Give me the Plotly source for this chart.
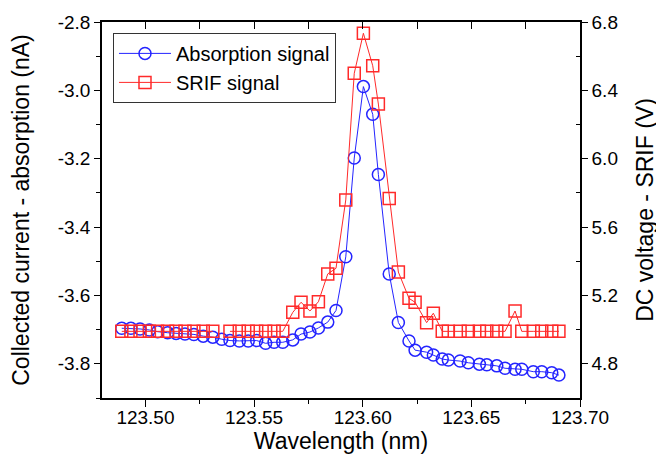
import plotly.graph_objects as go

# Wavelength (nm) of each scan point
wavelength = [123.4891, 123.4933, 123.4975, 123.5018, 123.5056, 123.5102, 123.5141, 123.5182,
              123.5223, 123.5266, 123.5310, 123.5351, 123.5389, 123.5432, 123.5473, 123.5512,
              123.5553, 123.5592, 123.5632, 123.5678, 123.5716, 123.5757, 123.5796, 123.5839,
              123.5877, 123.5922, 123.5961, 123.6003, 123.6046, 123.6072, 123.6122, 123.6164,
              123.6213, 123.6241, 123.6294, 123.6325, 123.6366, 123.6394, 123.6448, 123.6486,
              123.6537, 123.6571, 123.6617, 123.6655, 123.6701, 123.6732, 123.6785, 123.6824,
              123.6870, 123.6903]

# Collected current - absorption (nA)
absorption = [-3.696, -3.696, -3.698, -3.701, -3.706, -3.709, -3.711, -3.713,
              -3.714, -3.719, -3.722, -3.728, -3.732, -3.733, -3.733, -3.732,
              -3.740, -3.737, -3.737, -3.730, -3.713, -3.707, -3.695, -3.678,
              -3.644, -3.487, -3.198, -2.989, -3.070, -3.246, -3.537, -3.679,
              -3.733, -3.760, -3.766, -3.774, -3.786, -3.789, -3.792, -3.797,
              -3.801, -3.803, -3.806, -3.813, -3.816, -3.816, -3.823, -3.823,
              -3.826, -3.833]

# DC voltage - SRIF (V)
srif = [4.99, 4.99, 4.99, 4.99, 4.99, 4.99, 4.99, 4.99,
        4.99, 4.99, 4.99, None, 4.99, 4.99, 4.99, 4.99,
        4.99, 4.99, 4.99, 5.101, 5.160, 5.109, 5.163, 5.326,
        5.359, 5.759, 6.500, 6.734, 6.544, 6.320, 5.768, 5.337,
        5.183, 5.160, 5.041, 5.096, 4.99, 4.99, 4.99, 4.99,
        4.99, 4.99, 4.99, 4.99, 5.109, 4.99, 4.99, 4.99,
        4.99, 4.99]

x_ticks = [123.50, 123.55, 123.60, 123.65, 123.70]
x_ticklabels = ["123.50", "123.55", "123.60", "123.65", "123.70"]
x_minor = [123.525, 123.575, 123.625, 123.675]
left_ticks = [-3.8, -3.6, -3.4, -3.2, -3.0, -2.8]
left_ticklabels = ["-3.8", "-3.6", "-3.4", "-3.2", "-3.0", "-2.8"]
left_minor = [-3.9, -3.7, -3.5, -3.3, -3.1, -2.9]
right_ticks = [4.8, 5.2, 5.6, 6.0, 6.4, 6.8]
right_ticklabels = ["4.8", "5.2", "5.6", "6.0", "6.4", "6.8"]
right_minor = [4.6, 5.0, 5.4, 5.8, 6.2, 6.6]

BLUE = "#2424ff"
RED = "#ff2a2a"
FONT = "Arial, Liberation Sans, sans-serif"

fig = go.Figure()
fig.add_trace(go.Scatter(
    x=wavelength, y=absorption, name="Absorption signal", mode="lines+markers",
    line=dict(color=BLUE, width=1),
    marker=dict(symbol="circle-open", size=12, color=BLUE, line=dict(width=1.5, color=BLUE)),
))
fig.add_trace(go.Scatter(
    x=wavelength, y=srif, name="SRIF signal", mode="lines+markers", yaxis="y2",
    line=dict(color=RED, width=1),
    marker=dict(symbol="square-open", size=12, color=RED, line=dict(width=1.5, color=RED)),
))
# empty trace so the mirrored top axis (inward ticks) is drawn
fig.add_trace(go.Scatter(x=[], y=[], xaxis="x2", yaxis="y", showlegend=False, hoverinfo="skip"))

xr = [123.48, 123.70]
tick_common = dict(tickwidth=1.3, tickcolor="black", showgrid=False, zeroline=False, automargin=False)
fig.update_layout(
    width=656, height=458,
    margin=dict(l=94, r=84, t=14, b=68),
    paper_bgcolor="white", plot_bgcolor="white",
    font=dict(family=FONT, size=19, color="black"),
    showlegend=True,
    legend=dict(x=0.023, y=0.971, xanchor="left", yanchor="top",
                bordercolor="#333", borderwidth=1, bgcolor="white",
                font=dict(size=20), tracegroupgap=0, itemwidth=52),
    xaxis=dict(range=xr, tickmode="array", tickvals=x_ticks, ticktext=x_ticklabels,
               ticks="outside", ticklen=7, ticklabelstandoff=-6,
               minor=dict(tickmode="array", tickvals=x_minor,
                          ticks="outside", ticklen=4, tickwidth=1.3, tickcolor="black"),
               showline=True, linecolor="black", linewidth=1.5, mirror=True,
               title=dict(text="Wavelength (nm)", standoff=2),
               tickfont=dict(size=19), **tick_common),
    xaxis2=dict(range=xr, overlaying="x", side="top", anchor="y",
                tickmode="array", tickvals=x_ticks, showticklabels=False,
                ticks="inside", ticklen=7,
                minor=dict(tickmode="array", tickvals=x_minor,
                           ticks="inside", ticklen=7, tickwidth=1.3, tickcolor="black"),
                showline=False, **tick_common),
    yaxis=dict(range=[-3.9, -2.8], tickmode="array", tickvals=left_ticks, ticktext=left_ticklabels,
               ticks="outside", ticklen=6,
               minor=dict(tickmode="array", tickvals=left_minor,
                          ticks="outside", ticklen=4, tickwidth=1.3, tickcolor="black"),
               showline=True, linecolor="black", linewidth=1.5, mirror=True,
               title=dict(text="Collected current - absorption (nA)", standoff=28),
               tickfont=dict(size=19), **tick_common),
    yaxis2=dict(range=[4.6, 6.8], overlaying="y", side="right", anchor="x",
                tickmode="array", tickvals=right_ticks, ticktext=right_ticklabels,
                ticks="outside", ticklen=6,
                minor=dict(tickmode="array", tickvals=right_minor,
                           ticks="inside", ticklen=4, tickwidth=1.3, tickcolor="black"),
                showline=True, linecolor="black", linewidth=1.5,
                title=dict(text="DC voltage - SRIF (V)", standoff=20),
                tickfont=dict(size=19), **tick_common),
)

fig.write_html("out.html")
